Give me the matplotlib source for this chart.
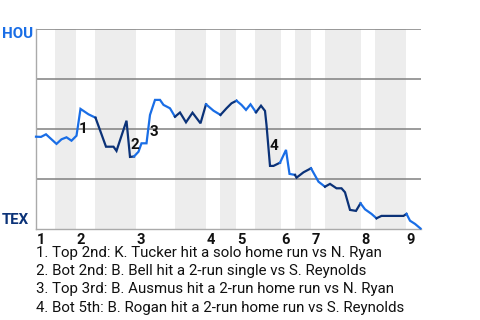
import matplotlib
matplotlib.use('Agg')
import matplotlib.pyplot as plt

plt.rcParams['font.family'] = ['Roboto', 'DejaVu Sans']

# play position (x) and HOU win probability (0..1)
play_x = [0.0, 1.0, 2.0, 4.1, 5.1, 6.1, 7.1, 8.1, 8.9, 10.5, 11.9, 14.0, 15.5, 16.1,
          18.1, 18.8, 19.6, 20.5, 21.1, 22.1, 22.8, 23.8, 24.8, 25.5, 26.8, 27.8,
          28.8, 30.0, 31.3, 32.9, 34.0, 35.5, 36.9, 38.1, 39.1, 40.1, 41.1, 42.0,
          42.9, 44.0, 45.0, 45.8, 46.1, 46.8, 47.5, 48.8, 50.0, 50.7, 51.8, 52.1,
          53.5, 55.0, 56.5, 57.8, 58.8, 60.1, 61.1, 61.8, 62.8, 64.0, 64.9, 65.8,
          67.1, 68.1, 69.1, 73.5, 74.1, 74.8, 75.8, 76.9]
win_prob = [0.459, 0.458, 0.471, 0.423, 0.446, 0.456, 0.439, 0.464, 0.598, 0.571,
            0.554, 0.409, 0.409, 0.388, 0.539, 0.358, 0.360, 0.384, 0.426, 0.426,
            0.568, 0.643, 0.643, 0.618, 0.601, 0.559, 0.580, 0.531, 0.579, 0.526,
            0.621, 0.589, 0.568, 0.601, 0.626, 0.639, 0.618, 0.593, 0.621, 0.581,
            0.614, 0.588, 0.518, 0.313, 0.313, 0.329, 0.393, 0.273, 0.268, 0.254,
            0.281, 0.301, 0.234, 0.209, 0.223, 0.201, 0.201, 0.181, 0.093, 0.088,
            0.126, 0.096, 0.073, 0.051, 0.063, 0.063, 0.073, 0.039, 0.023, 0.0]

# half-inning start positions (top 1st, bot 1st, top 2nd, ...)
half_starts = [0.0, 3.8, 8.0, 11.8, 20.0, 27.8, 34.0, 36.8, 40.0, 43.8, 49.0,
               51.8, 55.0, 57.8, 65.0, 67.8, 74.0]
half_line = ['hou', 'hou', 'hou', 'tex', 'hou', 'tex', 'hou', 'tex', 'hou', 'tex',
             'hou', 'tex', 'hou', 'tex', 'hou', 'tex', 'hou']
x_end = 77.0

innings = ['1', '2', '3', '4', '5', '6', '7', '8', '9']

event_labels = ['1', '2', '3', '4']
event_x = [9.5, 19.7, 23.6, 47.6]
event_y = [0.497, 0.418, 0.484, 0.412]

notes = ['1. Top 2nd: K. Tucker hit a solo home run vs N. Ryan',
         '2. Bot 2nd: B. Bell hit a 2-run single vs S. Reynolds',
         '3. Top 3rd: B. Ausmus hit a 2-run home run vs N. Ryan',
         '4. Bot 5th: B. Rogan hit a 2-run home run vs S. Reynolds']

colors = {'hou': '#1a6ee6', 'tex': '#0b3278'}

fig = plt.figure(figsize=(4.8, 3.2), dpi=100)
ax = fig.add_axes([36/480, (320-228.5)/320, (421-36)/480, 200/320])
ax.set_xlim(0, x_end)
ax.set_ylim(0, 1)

# shaded bottom halves
bounds = half_starts + [x_end]
for i in range(1, len(half_starts), 2):
    ax.axvspan(bounds[i], bounds[i+1], color='#ededed', lw=0, zorder=0)

for g in [0.25, 0.5, 0.75, 1.0]:
    ax.axhline(g, color='#808080', lw=1.1, zorder=1)


def half_of(x):
    k = 0
    for i, s in enumerate(half_starts):
        if x >= s:
            k = i
    return k


# line, coloured by which half-inning each segment sits in
seg_x = [play_x[0]]
seg_y = [win_prob[0]]
cur = half_line[half_of((play_x[0] + play_x[1]) / 2)]
for i in range(1, len(play_x)):
    c = half_line[half_of((play_x[i-1] + play_x[i]) / 2)]
    if c != cur:
        ax.plot(seg_x, seg_y, color=colors[cur], lw=1.6, zorder=3,
                solid_joinstyle='miter', clip_on=False)
        seg_x = [play_x[i-1]]
        seg_y = [win_prob[i-1]]
        cur = c
    seg_x.append(play_x[i])
    seg_y.append(win_prob[i])
ax.plot(seg_x, seg_y, color=colors[cur], lw=1.6, zorder=3,
        solid_joinstyle='miter', clip_on=False)

for lab, x, y in zip(event_labels, event_x, event_y):
    ax.text(x, y, lab, fontsize=11, fontweight='bold', color='#111111',
            ha='center', va='center', zorder=4)

# inning numbers under the axis
for k, lab in enumerate(innings):
    ax.text(half_starts[2*k] + 0.15, -0.02, lab, fontsize=10.5, fontweight='bold',
            color='#111111', ha='left', va='top', transform=ax.transData,
            clip_on=False)

for s in ['top', 'right']:
    ax.spines[s].set_visible(False)
ax.spines['left'].set_color('#aaaaaa')
ax.spines['bottom'].set_color('#aaaaaa')
ax.spines['left'].set_linewidth(1.0)
ax.spines['bottom'].set_linewidth(1.0)
ax.set_xticks([])
ax.set_yticks([])

fig.text(2/480, 1 - 34/320, 'HOU', fontsize=10.8, fontweight='bold',
         color=colors['hou'], ha='left', va='center')
fig.text(2/480, 1 - 219.5/320, 'TEX', fontsize=10.8, fontweight='bold',
         color=colors['tex'], ha='left', va='center')

for i, t in enumerate(notes):
    fig.text(36/480, 1 - (253 + 18.2*i)/320, t, fontsize=10.8, color='#111111',
             ha='left', va='center')

fig.savefig('out.png', dpi=100)
